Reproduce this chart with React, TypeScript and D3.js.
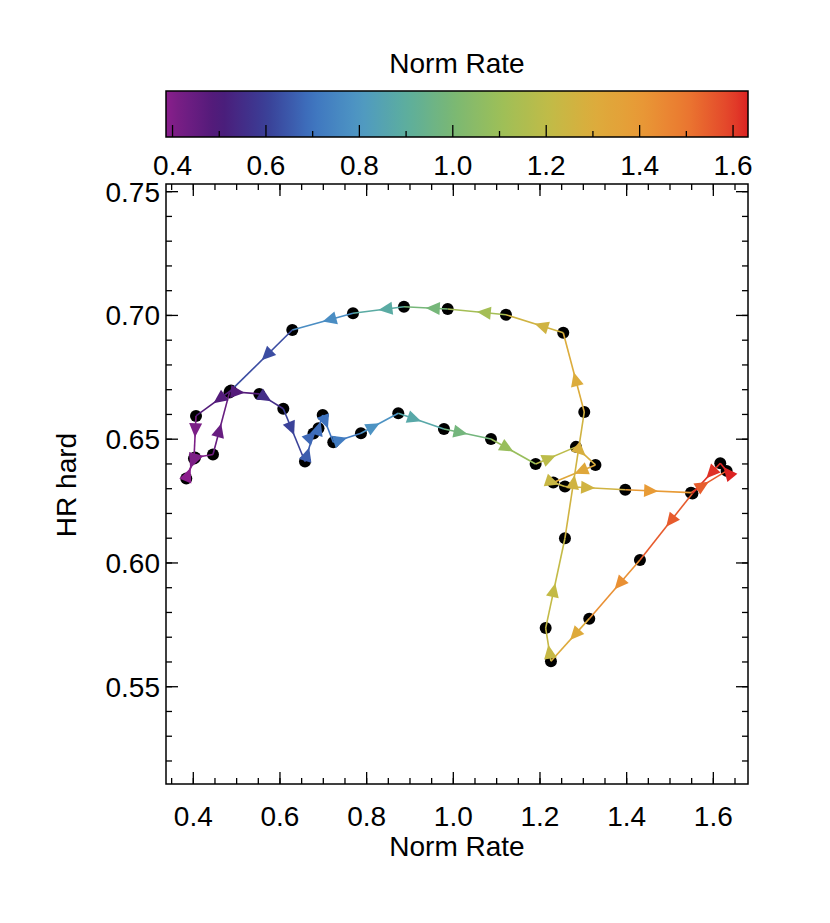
import React from "react";
import * as d3 from "d3";

// time-ordered track: normalised rate vs hard hardness ratio
const normRate = [
  0.4847, 0.5523, 0.6077, 0.6577, 0.6773, 0.6889, 0.6986, 0.723, 0.7869, 0.873,
  0.9784, 1.0869, 1.19, 1.283, 1.328, 1.2306, 1.2576, 1.3968, 1.5484, 1.6307,
  1.616, 1.5518, 1.4307, 1.3137, 1.2253, 1.2131, 1.2576, 1.3022, 1.2537, 1.1215,
  0.987, 0.8861, 0.7685, 0.6284, 0.487, 0.4062, 0.4016, 0.3838, 0.4039, 0.4454,
  0.4835,
];
const hrHard = [
  0.6693, 0.6683, 0.6623, 0.641, 0.6523, 0.6544, 0.6598, 0.6488, 0.6524, 0.6605,
  0.6541, 0.6501, 0.64, 0.6469, 0.6396, 0.6325, 0.6309, 0.6296, 0.6284, 0.6372,
  0.6403, 0.6281, 0.6012, 0.5775, 0.5603, 0.5737, 0.61, 0.661, 0.693, 0.7003,
  0.7026, 0.7035, 0.7009, 0.6941, 0.6697, 0.6594, 0.6422, 0.6341, 0.6426, 0.6438,
  0.6689,
];

const xTicks = [0.4, 0.6, 0.8, 1.0, 1.2, 1.4, 1.6];
const yTicks = [0.55, 0.6, 0.65, 0.7, 0.75];
const cbTicks = [0.4, 0.6, 0.8, 1.0, 1.2, 1.4, 1.6];

// colour table
const cmapValues = [0.386, 0.4, 0.5, 0.6, 0.7, 0.8, 0.9, 1.0, 1.1, 1.2, 1.3, 1.4, 1.5, 1.6, 1.632];
const cmapColors = [
  "#8a1e8c", "#7e1f87", "#4c1a78", "#3a3e96", "#3e74c0", "#4f98c4", "#5cae9e",
  "#7ab874", "#9cbf58", "#bfbc48", "#dcac3c", "#e89a36", "#eb7830", "#e3402a", "#dc2222",
];

const W = 830;
const H = 923;
const plot = { left: 166, right: 748, top: 184, bottom: 784 };
const cbar = { top: 91, bottom: 137 };
const FONT = "'Liberation Sans', Arial, Helvetica, sans-serif";
const FS = 28;

export default function App() {
  const x = d3.scaleLinear().domain([0.337, 1.68]).range([plot.left, plot.right]);
  const y = d3.scaleLinear().domain([0.5107, 0.7531]).range([plot.bottom, plot.top]);
  const cb = d3.scaleLinear().domain([0.386, 1.632]).range([plot.left, plot.right]);
  const color = d3
    .scaleLinear<string>()
    .domain(cmapValues)
    .range(cmapColors)
    .interpolate(d3.interpolateRgb)
    .clamp(true);

  const pts = normRate.map((r, i) => ({ r, h: hrHard[i], px: x(r), py: y(hrHard[i]) }));
  const segs = pts.slice(1).map((p, i) => ({ a: pts[i], b: p }));

  const xMinor = d3.range(0.35, 1.68, 0.05);
  const yMinor = d3.range(0.52, 0.7531, 0.01);
  const cbMinor = [0.5, 0.7, 0.9, 1.1, 1.3, 1.5];
  const gradStops = d3.range(0, 1.0001, 0.02);

  // filled arrowhead with its tip at the middle of the segment
  const arrow = (a: any, b: any) => {
    const dx = b.px - a.px;
    const dy = b.py - a.py;
    const len = Math.hypot(dx, dy) || 1;
    const ux = dx / len;
    const uy = dy / len;
    const mx = (a.px + b.px) / 2;
    const my = (a.py + b.py) / 2;
    const hl = 14;
    const hw = 6.5;
    const bx = mx - ux * hl;
    const by = my - uy * hl;
    return `M${mx},${my}L${bx - uy * hw},${by + ux * hw}L${bx + uy * hw},${by - ux * hw}Z`;
  };

  return (
    <svg width={W} height={H} style={{ position: "absolute", left: 0, top: 0, background: "#fff" }}>
      <defs>
        <linearGradient id="cbgrad" x1="0" x2="1" y1="0" y2="0">
          {gradStops.map((t) => (
            <stop key={t} offset={t} stopColor={color(cb.invert(plot.left + t * (plot.right - plot.left)))} />
          ))}
        </linearGradient>
        <clipPath id="plotclip">
          <rect x={plot.left} y={plot.top} width={plot.right - plot.left} height={plot.bottom - plot.top} />
        </clipPath>
      </defs>

      {/* colour bar */}
      <text x={(plot.left + plot.right) / 2} y={73} textAnchor="middle" fontFamily={FONT} fontSize={FS}>
        Norm Rate
      </text>
      <rect x={plot.left} y={cbar.top} width={plot.right - plot.left} height={cbar.bottom - cbar.top} fill="url(#cbgrad)" />
      {cbTicks.map((t) => (
        <g key={"cb" + t}>
          <line x1={cb(t)} x2={cb(t)} y1={cbar.bottom} y2={cbar.bottom - 12} stroke="#000" strokeWidth={1.3} />
          <text x={cb(t)} y={175} textAnchor="middle" fontFamily={FONT} fontSize={FS}>
            {t.toFixed(1)}
          </text>
        </g>
      ))}
      {cbMinor.map((t) => (
        <line key={"cbm" + t} x1={cb(t)} x2={cb(t)} y1={cbar.bottom} y2={cbar.bottom - 6} stroke="#000" strokeWidth={1.3} />
      ))}
      <rect x={plot.left} y={cbar.top} width={plot.right - plot.left} height={cbar.bottom - cbar.top} fill="none" stroke="#000" strokeWidth={1.5} />

      {/* data */}
      <g clipPath="url(#plotclip)">
        {pts.map((p, i) => (
          <circle key={"d" + i} cx={p.px} cy={p.py} r={6} fill="#000" />
        ))}
        {segs.map((s, i) => (
          <line key={"s" + i} x1={s.a.px} y1={s.a.py} x2={s.b.px} y2={s.b.py} stroke={color(s.a.r)} strokeWidth={1.6} />
        ))}
        {segs.map((s, i) => (
          <path key={"a" + i} d={arrow(s.a, s.b)} fill={color(s.a.r)} />
        ))}
      </g>

      {/* frame and ticks */}
      <rect x={plot.left} y={plot.top} width={plot.right - plot.left} height={plot.bottom - plot.top} fill="none" stroke="#000" strokeWidth={1.5} />
      {xTicks.map((t) => (
        <g key={"x" + t}>
          <line x1={x(t)} x2={x(t)} y1={plot.bottom} y2={plot.bottom - 12} stroke="#000" strokeWidth={1.3} />
          <line x1={x(t)} x2={x(t)} y1={plot.top} y2={plot.top + 12} stroke="#000" strokeWidth={1.3} />
          <text x={x(t)} y={826} textAnchor="middle" fontFamily={FONT} fontSize={FS}>
            {t.toFixed(1)}
          </text>
        </g>
      ))}
      {xMinor.map((t) => (
        <g key={"xm" + t}>
          <line x1={x(t)} x2={x(t)} y1={plot.bottom} y2={plot.bottom - 6} stroke="#000" strokeWidth={1.3} />
          <line x1={x(t)} x2={x(t)} y1={plot.top} y2={plot.top + 6} stroke="#000" strokeWidth={1.3} />
        </g>
      ))}
      {yTicks.map((t) => (
        <g key={"y" + t}>
          <line x1={plot.left} x2={plot.left + 12} y1={y(t)} y2={y(t)} stroke="#000" strokeWidth={1.3} />
          <line x1={plot.right} x2={plot.right - 12} y1={y(t)} y2={y(t)} stroke="#000" strokeWidth={1.3} />
          <text x={160} y={y(t) + 10} textAnchor="end" fontFamily={FONT} fontSize={FS}>
            {t.toFixed(2)}
          </text>
        </g>
      ))}
      {yMinor.map((t) => (
        <g key={"ym" + t}>
          <line x1={plot.left} x2={plot.left + 6} y1={y(t)} y2={y(t)} stroke="#000" strokeWidth={1.3} />
          <line x1={plot.right} x2={plot.right - 6} y1={y(t)} y2={y(t)} stroke="#000" strokeWidth={1.3} />
        </g>
      ))}
      <text x={(plot.left + plot.right) / 2} y={856} textAnchor="middle" fontFamily={FONT} fontSize={FS}>
        Norm Rate
      </text>
      <text transform={`translate(76,485) rotate(-90)`} textAnchor="middle" fontFamily={FONT} fontSize={FS}>
        HR hard
      </text>
    </svg>
  );
}
